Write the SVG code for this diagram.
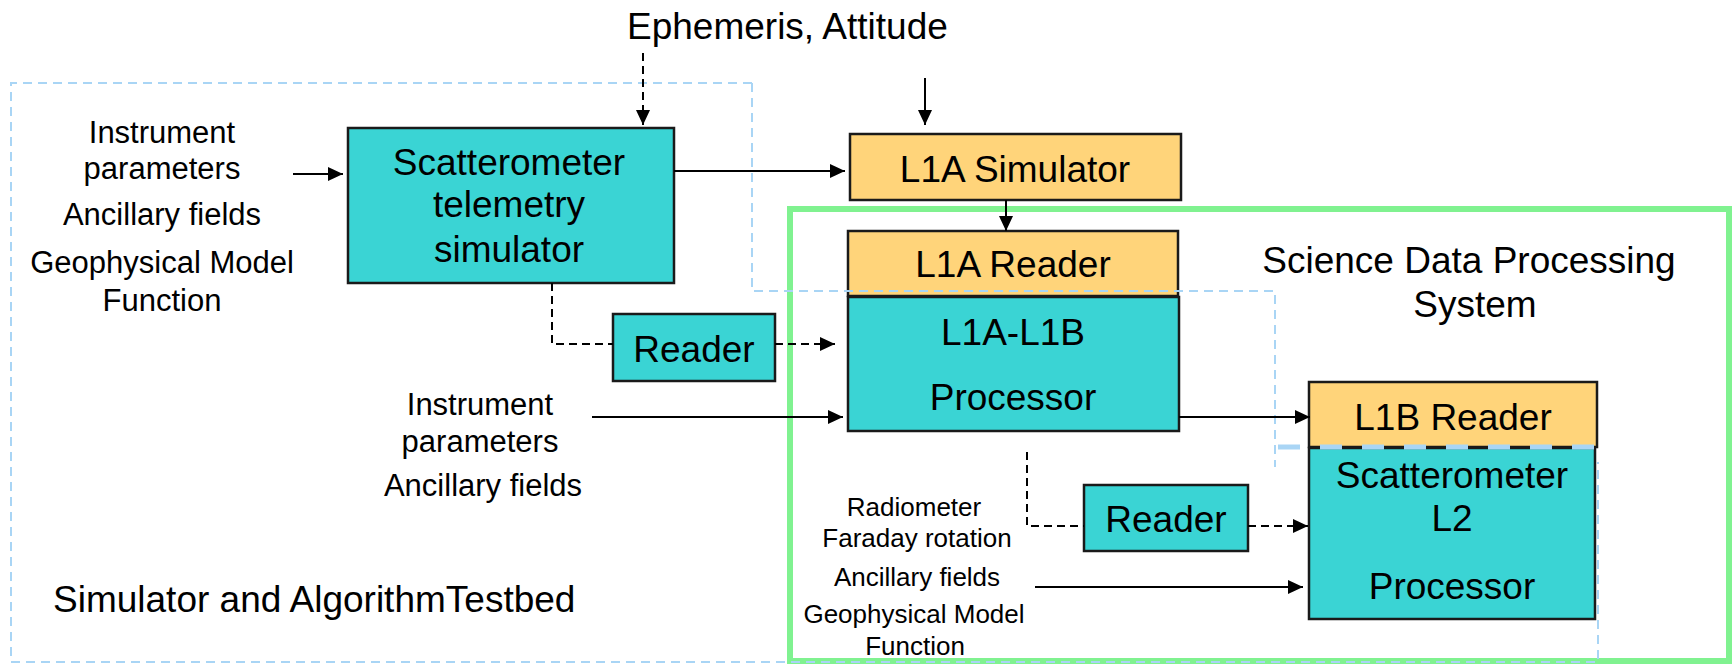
<svg xmlns="http://www.w3.org/2000/svg" width="1732" height="664" viewBox="0 0 1732 664">
<defs>
<marker id="ah" markerWidth="16" markerHeight="14" refX="15" refY="7" orient="auto" markerUnits="userSpaceOnUse"><path d="M0,0 L15,7 L0,14 z" fill="#000"/></marker>
<style>
.t{font-family:"Liberation Sans",Arial,sans-serif;fill:#000}
.b{font-size:37px;text-anchor:middle}
.m{font-size:31px;text-anchor:middle}
.s{font-size:26px;text-anchor:middle}
.cy{fill:#3AD4D4;stroke:#1a1a1a;stroke-width:2.5}
.or{fill:#FFD47A;stroke:#1a1a1a;stroke-width:2.5}
.c{stroke:#000;stroke-width:2;fill:none}
.d{stroke-dasharray:8 5}
.bl{stroke:#A9D5F5;stroke-width:2;fill:none;stroke-dasharray:9 6}
</style>
</defs>
<rect width="1732" height="664" fill="#fff"/>
<g id="sdps-region">
<rect x="790" y="209" width="939" height="452" fill="none" stroke="#80F290" stroke-width="6"/>
<text class="t b" x="1469" y="273">Science Data Processing</text>
<text class="t b" x="1475" y="317">System</text>
</g>
<g id="testbed-label">
<text class="t" style="font-size:37px" x="53" y="612">Simulator and AlgorithmTestbed</text>
</g>
<g id="ephemeris">
<text class="t" style="font-size:37px" x="627" y="39">Ephemeris, Attitude</text>
</g>
<g id="inputs-sim">
<text class="t m" x="162" y="143">Instrument</text>
<text class="t m" x="162" y="179">parameters</text>
<text class="t m" x="162" y="225">Ancillary fields</text>
<text class="t m" x="162" y="273">Geophysical Model</text>
<text class="t m" x="162" y="311">Function</text>
</g>
<g id="inputs-l1b">
<text class="t m" x="480" y="415">Instrument</text>
<text class="t m" x="480" y="452">parameters</text>
<text class="t m" x="483" y="496">Ancillary fields</text>
</g>
<g id="inputs-l2">
<text class="t s" x="914" y="516">Radiometer</text>
<text class="t s" x="917" y="547">Faraday rotation</text>
<text class="t s" x="917" y="586">Ancillary fields</text>
<text class="t s" x="914" y="623">Geophysical Model</text>
<text class="t s" x="915" y="655">Function</text>
</g>
<g id="telemetry-sim">
<rect class="cy" x="348" y="128" width="326" height="155"/>
<text class="t b" x="509" y="175">Scatterometer</text>
<text class="t b" x="509" y="217">telemetry</text>
<text class="t b" x="509" y="262">simulator</text>
</g>
<g id="l1a-simulator">
<rect class="or" x="850" y="134" width="331" height="66"/>
<text class="t b" x="1015" y="182">L1A Simulator</text>
</g>
<g id="l1a-reader">
<rect class="or" x="848" y="231" width="330" height="65"/>
<text class="t b" x="1013" y="277">L1A Reader</text>
</g>
<g id="l1a-l1b-processor">
<rect class="cy" x="848" y="297" width="331" height="134"/>
<text class="t b" x="1013" y="345">L1A-L1B</text>
<text class="t b" x="1013" y="410">Processor</text>
</g>
<g id="reader1">
<rect class="cy" x="613" y="314" width="162" height="67"/>
<text class="t b" x="694" y="362">Reader</text>
</g>
<g id="l1b-reader">
<rect class="or" x="1309" y="382" width="288" height="65"/>
<text class="t b" x="1453" y="430">L1B Reader</text>
</g>
<g id="l2-processor">
<rect class="cy" x="1309" y="448" width="286" height="171"/>
<text class="t b" x="1452" y="488">Scatterometer</text>
<text class="t b" x="1452" y="531">L2</text>
<text class="t b" x="1452" y="599">Processor</text>
</g>
<g id="reader2">
<rect class="cy" x="1084" y="485" width="164" height="66"/>
<text class="t b" x="1166" y="532">Reader</text>
</g>
<g id="testbed-outline">
<path class="bl" d="M752,83 H11 V662 H1598 V462"/>
<path class="bl" d="M752,83 V291 H1275 V467"/>
<path d="M1278,447 H1597" stroke="#A9D5F5" stroke-width="5" fill="none" stroke-dasharray="22 20"/>
</g>
<g id="connectors">
<path class="c" d="M293,174 H343" marker-end="url(#ah)"/>
<path class="c d" d="M643,53 V125" marker-end="url(#ah)"/>
<path class="c" d="M925,78 V125" marker-end="url(#ah)"/>
<path class="c" d="M674,171 H845" marker-end="url(#ah)"/>
<path class="c" d="M1006,200 V231" marker-end="url(#ah)"/>
<path class="c d" d="M552,283 V344 H613"/>
<path class="c d" d="M775,344 H835" marker-end="url(#ah)"/>
<path class="c" d="M592,417 H843" marker-end="url(#ah)"/>
<path class="c" d="M1179,417 H1310" marker-end="url(#ah)"/>
<path class="c d" d="M1027,452 V526 H1084"/>
<path class="c d" d="M1248,526 H1308" marker-end="url(#ah)"/>
<path class="c" d="M1035,587 H1303" marker-end="url(#ah)"/>
</g>
</svg>
